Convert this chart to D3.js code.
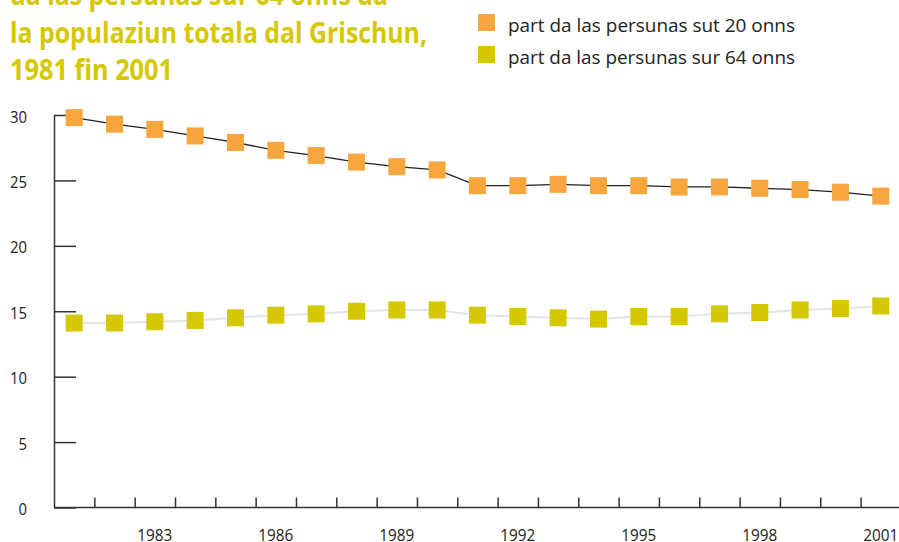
<!DOCTYPE html>
<html lang="en">
  <head>
    <meta charset="utf-8">
    <title>Part da las persunas</title>
    <style>
      body {
        margin: 0;
        background: #fff;
        font-family: "Open Sans", Arial, sans-serif;
      }
      svg { display: block; }
    </style>
  </head>
  <body>
    <div class="graph"></div>

    <script src="https://d3js.org/d3.v7.min.js"></script>
    <script>
      // data (percent)
      var years = d3.range(1981, 2002);
      var under20 = [29.8, 29.3, 28.9, 28.4, 27.9, 27.3, 26.9, 26.4, 26.05, 25.8, 24.6,
                     24.6, 24.7, 24.6, 24.6, 24.5, 24.5, 24.4, 24.3, 24.1, 23.8];
      var over64 = [14.1, 14.1, 14.2, 14.3, 14.5, 14.7, 14.8, 15.0, 15.1, 15.1, 14.7,
                    14.6, 14.5, 14.4, 14.6, 14.6, 14.8, 14.9, 15.1, 15.2, 15.4];
      var yTicks = [0, 5, 10, 15, 20, 25, 30];
      var xLabels = [1983, 1986, 1989, 1992, 1995, 1998, 2001];
      var titleLines = ['da las persunas sur 64 onns da',
                        'la populaziun totala dal Grischun,',
                        '1981 fin 2001'];
      var titleWidths = [378, 417, 163];
      var legendLabels = ['part da las persunas sut 20 onns',
                          'part da las persunas sur 64 onns'];

      var orange = '#f6a63d',
          yellow = '#d5c800';

      var width = 899, height = 542;
      var left = 54, step = 40.33;
      var digitW = 8.5; // condensed digits

      var svg = d3.select('.graph')
                  .append('svg')
                  .attr('width', width)
                  .attr('height', height);

      var x = d3.scaleBand()
                .domain(years)
                .range([left, left + step * years.length]);
      // boundaries between years, for the small ticks
      var xb = d3.scaleLinear()
                 .domain([1980.5, 2001.5])
                 .range([left, left + step * years.length]);
      var y = d3.scaleLinear()
                .domain([0, 30])
                .range([507.5, 115]);

      // title (the top line is cut by the picture edge, as in the original)
      svg.append('g')
         .selectAll('text')
         .data(titleLines)
         .enter()
         .append('text')
         .attr('x', 10)
         .attr('y', function(d, i) { return 5 + i * 37.5; })
         .attr('fill', yellow)
         .attr('font-weight', 'bold')
         .attr('font-size', 28)
         .attr('textLength', function(d, i) { return titleWidths[i]; })
         .attr('lengthAdjust', 'spacingAndGlyphs')
         .text(function(d) { return d; });

      // legend
      var legend = svg.append('g')
                      .selectAll('g')
                      .data(legendLabels)
                      .enter()
                      .append('g')
                      .attr('transform', function(d, i) {
                        return 'translate(478,' + (14 + i * 32) + ')';
                      });
      legend.append('rect')
            .attr('width', 17)
            .attr('height', 17)
            .attr('fill', function(d, i) { return i === 0 ? orange : yellow; });
      legend.append('text')
            .attr('x', 30)
            .attr('y', 17.5)
            .attr('font-size', 19)
            .attr('fill', '#222')
            .attr('textLength', 287)
            .attr('lengthAdjust', 'spacingAndGlyphs')
            .text(function(d) { return d; });

      // y axis
      var yAxis = d3.axisLeft(y)
                    .tickValues(yTicks)
                    .tickSizeInner(-22)
                    .tickSizeOuter(0)
                    .tickPadding(27);
      var gy = svg.append('g')
                  .attr('transform', 'translate(' + left + ',0)')
                  .call(yAxis);
      gy.selectAll('path, line').attr('stroke', '#333').attr('stroke-width', 1.5);
      gy.selectAll('text')
        .attr('font-size', 17)
        .attr('fill', '#222')
        .attr('font-family', '"Open Sans", sans-serif')
        .attr('dy', '0.42em')
        .attr('textLength', function(d) { return String(d).length * digitW; })
        .attr('lengthAdjust', 'spacingAndGlyphs');

      // x axis: ticks between years
      var xAxis = d3.axisBottom(xb)
                    .tickValues(d3.range(1981.5, 2001.5, 1))
                    .tickSizeInner(-10)
                    .tickSizeOuter(0)
                    .tickFormat('');
      var gx = svg.append('g')
                  .attr('transform', 'translate(0,' + y(0) + ')')
                  .call(xAxis);
      gx.select('.domain').attr('d', 'M' + left + ',0H' + width);
      gx.selectAll('path, line').attr('stroke', '#333').attr('stroke-width', 1.5);

      // x labels (bottom edge of the picture trims them, as in the original)
      var xLabelAxis = d3.axisBottom(x)
                         .tickValues(xLabels)
                         .tickSize(0)
                         .tickPadding(21.5);
      var gl = svg.append('g')
                  .attr('transform', 'translate(0,' + y(0) + ')')
                  .call(xLabelAxis);
      gl.select('.domain').remove();
      gl.selectAll('text')
        .attr('font-size', 17)
        .attr('fill', '#222')
        .attr('font-family', '"Open Sans", sans-serif')
        .attr('textLength', function(d) { return String(d).length * 8.75; })
        .attr('lengthAdjust', 'spacingAndGlyphs');

      var cx = function(d, i) { return x(years[i]) + x.bandwidth() / 2; };
      var line = d3.line()
                   .x(cx)
                   .y(function(d) { return y(d); });

      svg.append('path')
         .datum(over64)
         .attr('d', line)
         .attr('fill', 'none')
         .attr('stroke', '#e4e4e4')
         .attr('stroke-width', 2);
      svg.append('path')
         .datum(under20)
         .attr('d', line)
         .attr('fill', 'none')
         .attr('stroke', '#222')
         .attr('stroke-width', 1.3);

      [[over64, yellow], [under20, orange]].forEach(function(s) {
        svg.append('g')
           .selectAll('rect')
           .data(s[0])
           .enter()
           .append('rect')
           .attr('x', function(d, i) { return cx(d, i) - 8.5; })
           .attr('y', function(d) { return y(d) - 8.5; })
           .attr('width', 17)
           .attr('height', 17)
           .attr('fill', s[1]);
      });
    </script>
  </body>
</html>
